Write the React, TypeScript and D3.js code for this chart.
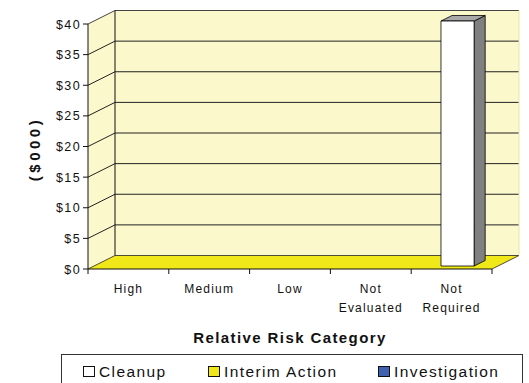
import React from 'react';
import * as d3 from 'd3';

const categories = ['High', 'Medium', 'Low', 'Not Evaluated', 'Not Required'];
const cleanup = [0, 0, 0, 0, 40];
const interimAction = [0, 0, 0, 0, 0];
const investigation = [0, 0, 0, 0, 0];
const yTicks = [0, 5, 10, 15, 20, 25, 30, 35, 40];

const W = 529;
const H = 383;
const FONT = "'Liberation Sans', Arial, sans-serif";

// plot front plane + depth offset of the 3D box
const left = 88, right = 492, top = 24, bottom = 269;
const DX = 27, DY = -13.5;

const series = [
  { name: 'Cleanup', values: cleanup, front: '#ffffff', side: '#808080', top: '#a8a8a8', swatch: '#ffffff' },
  { name: 'Interim Action', values: interimAction, front: '#f0e818', side: '#a09a10', top: '#c8c214', swatch: '#f0e818' },
  { name: 'Investigation', values: investigation, front: '#4060b0', side: '#2a4080', top: '#3550a0', swatch: '#4060b0' },
];

const App: React.FC = () => {
  const x = d3.scaleBand<string>().domain(categories).range([left, right]);
  const y = d3.scaleLinear().domain([0, 40]).range([bottom, top]);

  // project a point given in front-plane coords at depth z (0..1)
  const p = (px: number, py: number, z: number) => `${px + z * DX},${py + z * DY}`;

  const z0 = 0.22, z1 = 0.63;
  const barW = x.bandwidth() * 0.41;

  const bars: JSX.Element[] = [];
  series.forEach((s, si) => {
    s.values.forEach((v, i) => {
      if (!v) return;
      const cx = (x(categories[i]) ?? 0) + x.bandwidth() / 2;
      const x0 = cx - barW / 2, x1 = cx + barW / 2;
      const yb = y(0), yt = y(v);
      bars.push(
        <g key={`${si}-${i}`} stroke="#000" strokeWidth={0.8} strokeLinejoin="round">
          <polygon points={[p(x1, yt, z0), p(x1, yt, z1), p(x1, yb, z1), p(x1, yb, z0)].join(' ')} fill={s.side} />
          <polygon points={[p(x0, yt, z0), p(x1, yt, z0), p(x1, yt, z1), p(x0, yt, z1)].join(' ')} fill={s.top} />
          <polygon points={[p(x0, yt, z0), p(x1, yt, z0), p(x1, yb, z0), p(x0, yb, z0)].join(' ')} fill={s.front} />
        </g>
      );
    });
  });

  const xTicks = [...categories.map((c) => x(c) ?? 0), right];

  const legendItems = [
    { s: series[0], sx: 83, tx: 99 },
    { s: series[1], sx: 208, tx: 224 },
    { s: series[2], sx: 378, tx: 394 },
  ];

  return (
    <svg width={W} height={H} style={{ position: 'absolute', left: 0, top: 0, background: '#fff' }} fontFamily={FONT}>
      {/* left wall */}
      <polygon points={[p(left, top, 0), p(left, top, 1), p(left, bottom, 1), p(left, bottom, 0)].join(' ')} fill="#fbf8cc" />
      {/* back wall */}
      <polygon points={[p(left, top, 1), p(right, top, 1), p(right, bottom, 1), p(left, bottom, 1)].join(' ')} fill="#fbf8cc" />
      {/* floor */}
      <polygon points={[p(left, bottom, 0), p(right, bottom, 0), p(right, bottom, 1), p(left, bottom, 1)].join(' ')} fill="#f0e818" />

      {/* gridlines */}
      {yTicks.map((t) => (
        <g key={t} stroke={t === 40 ? '#444' : '#222'} strokeWidth={1} fill="none">
          {t > 0 && <polyline points={[p(left, y(t), 0), p(left, y(t), 1), p(right, y(t), 1)].join(' ')} />}
        </g>
      ))}
      {/* wall edges */}
      <line x1={left + DX} y1={top + DY} x2={left + DX} y2={bottom + DY} stroke="#111" />
      <polyline points={[p(left, bottom, 0), p(left, bottom, 1), p(right, bottom, 1), p(right, bottom, 0)].join(' ')} fill="none" stroke="#222" strokeWidth={0.8} />
      <line x1={right + DX} y1={top + DY} x2={right + DX} y2={bottom + DY} stroke="#e8e4b0" />

      {/* y axis */}
      <line x1={left} y1={top} x2={left} y2={bottom} stroke="#111" />
      {yTicks.map((t) => (
        <g key={`yt${t}`}>
          <line x1={left - 5} y1={y(t)} x2={left} y2={y(t)} stroke="#111" />
          <text x={left - 7} y={y(t) + 4.5} textAnchor="end" fontSize={12.5} letterSpacing={1.4} fill="#111">{`$${t}`}</text>
        </g>
      ))}

      {/* x axis */}
      <line x1={left} y1={bottom} x2={right} y2={bottom} stroke="#111" />
      {xTicks.map((tx, i) => (
        <line key={`xt${i}`} x1={tx} y1={bottom} x2={tx} y2={bottom + 5} stroke="#111" />
      ))}
      {categories.map((c) => {
        const cx = (x(c) ?? 0) + x.bandwidth() / 2;
        const parts = c.startsWith('Not ') ? ['Not', c.slice(4)] : [c];
        return (
          <text key={c} x={cx} y={293} textAnchor="middle" fontSize={12} letterSpacing={1.2} fill="#111">
            {parts.map((t, k) => (
              <tspan key={k} x={cx} dy={k === 0 ? 0 : 19}>{t}</tspan>
            ))}
          </text>
        );
      })}

      {bars}

      {/* axis titles */}
      <text x={290} y={343} textAnchor="middle" fontSize={15} fontWeight="bold" letterSpacing={1.4} fill="#111">Relative Risk Category</text>
      <text transform="translate(40,149) rotate(-90)" textAnchor="middle" fontSize={15} fontWeight="bold" letterSpacing={3.5} fill="#111">($000)</text>

      {/* legend */}
      <rect x={61.5} y={354.5} width={461} height={40} fill="#fff" stroke="#333" />
      {legendItems.map(({ s, sx, tx }) => (
        <g key={s.name}>
          <rect x={sx + 0.5} y={366.5} width={11} height={10} fill={s.swatch} stroke="#111" />
          <text x={tx} y={377} fontSize={15.5} letterSpacing={1.4} fill="#111">{s.name}</text>
        </g>
      ))}
    </svg>
  );
};

export default App;
